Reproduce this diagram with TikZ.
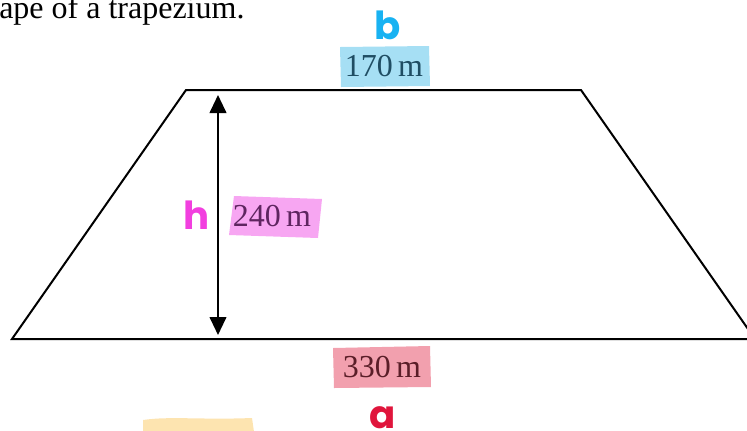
\documentclass[tikz,border=0pt]{standalone}
\usepackage{fontspec}
\setmainfont{Liberation Serif}
\newfontfamily\handfont{Poppins}
\usetikzlibrary{arrows.meta}
\definecolor{hlblue}{HTML}{A6DFF4}
\definecolor{hlpink}{HTML}{F7A6F2}
\definecolor{hlred}{HTML}{F2A0AE}
\definecolor{hlyellow}{HTML}{FDE4B0}
\definecolor{txblue}{HTML}{1F4D63}
\definecolor{txpurple}{HTML}{5E2560}
\definecolor{txred}{HTML}{5A1E28}
\definecolor{handcyan}{HTML}{18B2F2}
\definecolor{handmag}{HTML}{F23FDF}
\definecolor{handred}{HTML}{E0153C}
\tikzset{
  edge/.style={line width=1.5pt, line join=miter},
  meas/.style={font=\fontsize{24pt}{28pt}\selectfont, inner sep=0pt},
  hand/.style={font=\handfont\bfseries\fontsize{29pt}{31pt}\selectfont, inner sep=0pt},
  dim/.style={line width=1.5pt, {Triangle[length=13.5pt,width=12.5pt]}-{Triangle[length=13.5pt,width=12.5pt]}}
}
\begin{document}
\begin{tikzpicture}[x=0.75pt,y=-0.75pt]
\useasboundingbox (0,0) rectangle (747,430);
\clip (0,0) rectangle (747,430);
% heading fragment
\node[meas, anchor=base west] (head) at (-1,18) {ape of a trapezium.};
% highlights
\fill[hlblue] (340,47) -- (429,46) -- (430,86) -- (341,87) -- cycle;
\fill[hlpink] (234,196) -- (322,199) -- (318,238) -- (229,235) -- cycle;
\fill[hlred] (333,348) -- (430,346) -- (431,387) -- (334,388) -- cycle;
\fill[hlyellow] (143,420) .. controls (170,416) and (200,420) .. (252,418) -- (254,432) -- (143,432) -- cycle;
% trapezium
\coordinate (A) at (12,339);
\coordinate (B) at (755,339);
\coordinate (C) at (581,90);
\coordinate (D) at (186,90);
\draw[edge] (A) -- (B) -- (C) -- (D) -- cycle;
% height arrow
\coordinate (ht) at (218,95);
\coordinate (hb) at (218,335);
\draw[dim] (ht) -- (hb);
% labels
\node[meas, text=txblue] (top) at (384,66) {170\,m};
\node[meas, text=txpurple] (hgt) at (272,216) {240\,m};
\node[meas, text=txred] (bot) at (382,367) {330\,m};
% handwritten letters
\node[hand, text=handcyan] (lb) at (388,25) {b};
\node[hand, text=handmag] (lh) at (197,215) {h};
\node[hand, text=handred] (la) at (383,418) {a};
\end{tikzpicture}
\end{document}
